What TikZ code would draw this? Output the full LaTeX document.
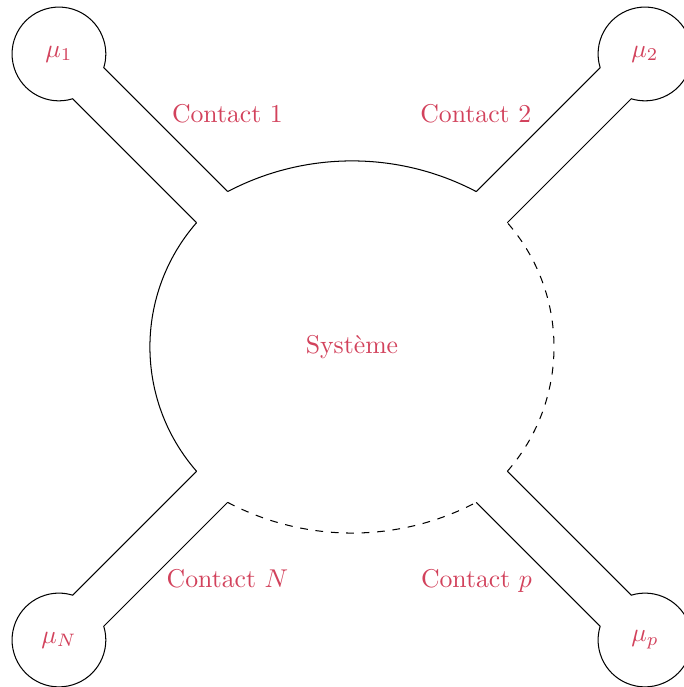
\documentclass[tikz,border=0pt]{standalone}
\usepackage{amsmath, amssymb}
\usepackage{xcolor}
\usepackage{tikz}
\usetikzlibrary{arrows.meta, positioning, calc}
\definecolor{lblred}{RGB}{210,66,92}

\begin{document}
\begin{tikzpicture}[
    lbl/.style={text=lblred},
    wall/.style={draw=black, line width=0.4pt}
]
    \useasboundingbox (-4.805,-4.642) rectangle (4.532,4.737);

    % 导线与热库
    \foreach \a/\n in {135/1, 45/2, 225/N, 315/p} {
        \begin{scope}[rotate=\a]
            \coordinate (u\n) at (2.7,0.3);
            \coordinate (l\n) at (2.7,-0.3);
            \draw[wall] (u\n) -- (5.092,0.3)
                arc[start angle=152.05, end angle=-152.05, radius=0.64] -- (l\n);
            \node[lbl] (mu\n) at (5.657,0) {$\mu_\n$};
        \end{scope}
    }

    % 系统边界
    \draw[wall] (u2) arc[start angle=62.26, end angle=117.74, radius=3.646];
    \draw[wall] (u1) arc[start angle=138.85, end angle=221.15, radius=2.579];
    \draw[wall, dashed] (uN) arc[start angle=242.26, end angle=297.74, radius=3.646];
    \draw[wall, dashed] (up) arc[start angle=-41.15, end angle=41.15, radius=2.579];

    % 标签
    \node[lbl] (sys) at (0,0) {Système};
    \node[lbl] (c1) at (-1.70,3.18) {Contact 1};
    \node[lbl] (c2) at (1.69,3.18) {Contact 2};
    \node[lbl] (cN) at (-1.70,-3.17) {Contact $N$};
    \node[lbl] (cp) at (1.70,-3.19) {Contact $p$};
\end{tikzpicture}
\end{document}
